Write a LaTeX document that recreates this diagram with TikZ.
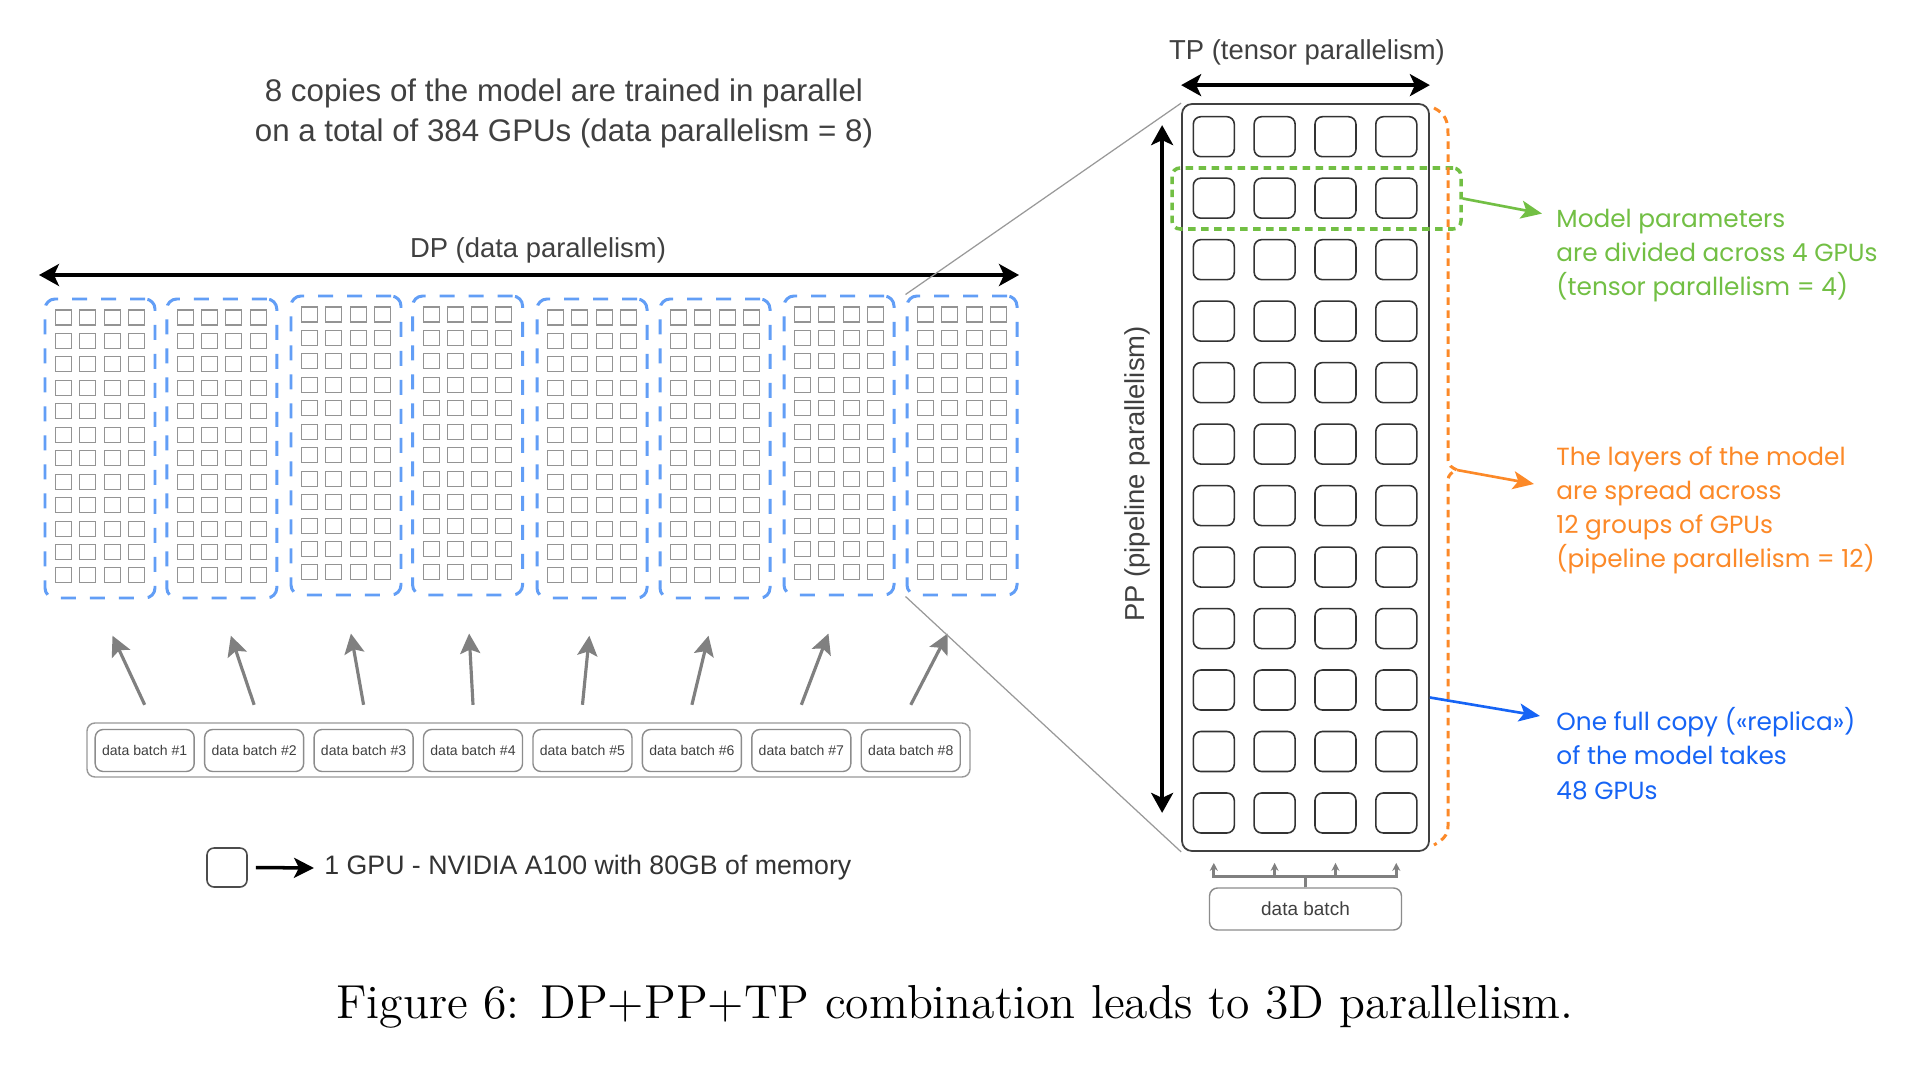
\documentclass[tikz,border=0pt]{standalone}
\usepackage{fontspec}
\newfontfamily\sansf{Liberation Sans}
\newfontfamily\popf{Poppins}
\usetikzlibrary{arrows.meta, positioning, calc}
\definecolor{dpblue}{RGB}{98,158,246}
\definecolor{tpgreen}{RGB}{114,191,68}
\definecolor{pporange}{RGB}{252,137,40}
\definecolor{repblue}{RGB}{22,100,245}
\definecolor{txtgray}{RGB}{64,64,64}

\begin{document}
\begin{tikzpicture}[x=0.1mm, y=-0.1mm, thick]

	% Define styles for boxes
	\tikzstyle{grp} = [rectangle, draw=dpblue, line width=0.85pt, dash pattern=on 1.5mm off 1.4mm,
						rounded corners=1mm, minimum width=11mm, minimum height=29.9mm, inner sep=0]
	\tikzstyle{chip} = [draw=black!42, line width=0.3pt]
	\tikzstyle{gpu} = [rectangle, draw=black!80, line width=0.45pt, rounded corners=0.75mm,
						minimum width=4.1mm, minimum height=4mm, inner sep=0]
	\tikzstyle{batch} = [rectangle, draw=black!45, line width=0.4pt, rounded corners=0.8mm,
						minimum width=9.9mm, minimum height=4.2mm, inner sep=0, text=black!75,
						font=\sansf\fontsize{4}{5}\selectfont]
	\tikzstyle{axlabel} = [font=\sansf\fontsize{7.8}{9}\selectfont, text=txtgray, inner sep=0]
	\tikzstyle{note} = [font=\popf\fontsize{7.05}{9.7}\selectfont, align=left, anchor=west, inner sep=0]

	% Define styles for arrows
	\tikzstyle{biarrow} = [draw=black, line width=1pt,
						{Stealth[length=2mm, width=2.2mm, inset=0.5mm]}-{Stealth[length=2mm, width=2.2mm, inset=0.5mm]}]
	\tikzstyle{feed} = [draw=black!50, line width=0.9pt, -{Stealth[length=2mm, width=2mm, inset=0.4mm]}]
	\tikzstyle{fork} = [draw=black!50, line width=0.9pt, -{Stealth[length=0.8mm, width=0.8mm]}]
	\tikzstyle{pointer} = [line width=0.75pt, -{Stealth[length=2.1mm, width=1.8mm, inset=0.5mm]}]
	\tikzstyle{zoomline} = [draw=black!40, line width=0.35pt]

	\useasboundingbox (0,0) rectangle (1906,1064);
	\fill[white] (0,0) rectangle (1906,1064);

	% Title
	\node [axlabel, align=center, font=\sansf\fontsize{8.9}{11.4}\selectfont] (title) at (564,113.5)
		{8 copies of the model are trained in parallel\\on a total of 384 GPUs (data parallelism = 8)};

	% Place the 8 copies
	\foreach \i/\cx/\cy in {1/100/448.5, 2/221.8/448.5, 3/346/445.5, 4/467.6/445.5,
							5/592/448.5, 6/715/448.5, 7/839/445.5, 8/962/445.5} {
		\node [grp] (g\i) at (\cx,\cy) {};
		\foreach \r in {0,...,11}
			\foreach \c in {0,...,3}
				\draw [chip] (\cx+\c*24.2-44.3, \cy+\r*23.45-138.5) rectangle ++(16,15);
	}

	% DP arrow
	\coordinate (dpl) at (39,275);
	\coordinate (dpr) at (1019,275);
	\path [biarrow] (dpl) -- (dpr);
	\node [axlabel] (dplab) at (538,250) {DP (data parallelism)};

	% Data batches
	\node [rectangle, draw=black!40, line width=0.4pt, rounded corners=0.8mm,
		minimum width=88.3mm, minimum height=5.4mm] (tray) at (528.5,750) {};
	\foreach \i in {1,...,8}
		\node [batch] (b\i) at (35.26+109.44*\i, 750.5) {data batch \#\i};
	\foreach \i in {1,...,8}
		\path [feed] ([yshift=2.4mm]b\i.north) -- ($(g\i.south)!0.28!(b\i.north)$);

	% Legend
	\node [gpu, minimum width=4mm, minimum height=3.9mm, rounded corners=0.7mm, draw=black!70] (leg) at (227,867.5) {};
	\node [anchor=west, inner sep=0, font=\sansf\fontsize{7.6}{9}\selectfont, text=black!80] (legtext) at (323,868)
		{1 GPU - NVIDIA A100 with 80GB of memory};
	\path [draw=black, line width=1pt, -{Stealth[length=2mm, width=2mm, inset=0.5mm]}]
		([xshift=0.8mm]leg.east) -- ([xshift=-0.9mm]legtext.west);

	% One replica
	\node [rectangle, draw=black!75, line width=0.5pt, rounded corners=1mm,
		minimum width=24.7mm, minimum height=74.7mm] (rep) at (1305.5,477.5) {};
	\foreach \r in {1,...,12}
		\foreach \c in {1,...,4}
			\node [gpu] (big-\r-\c) at (1152.97+60.83*\c, 75.22+61.48*\r) {};

	% Zoom lines
	\path [zoomline] (g8.north west) -- (rep.north west);
	\path [zoomline] (g8.south west) -- (rep.south west);

	% TP and PP arrows
	\path [biarrow] ([yshift=1.8mm]rep.north west) -- ([yshift=1.8mm]rep.north east);
	\node [axlabel] (tplab) at (1307,52) {TP (tensor parallelism)};
	\path [biarrow] ($(rep.north west)+(-19,22)$) -- ($(rep.south west)+(-19,-39)$);
	\node [axlabel, rotate=90] (pplab) at (1137,474) {PP (pipeline parallelism)};

	% Tensor row and pipeline bracket
	\node [draw=tpgreen, line width=1pt, dash pattern=on 0.75mm off 0.55mm, rounded corners=0.8mm,
		minimum width=28.9mm, minimum height=6.1mm, inner sep=0] (tprow) at (1316.5,198.5) {};
	\draw [pporange, line width=0.85pt, dash pattern=on 0.75mm off 0.55mm]
		(1434,108) .. controls (1446,114) and (1448,122) .. (1448,134) -- (1448,460)
		.. controls (1448,465) and (1452,468) .. (1457,470) coordinate (bracetip)
		.. controls (1452,472) and (1448,475) .. (1448,480) -- (1448,826)
		.. controls (1448,836) and (1442,840) .. (1434,845);

	% Data batch of the replica
	\node [batch, font=\sansf\fontsize{5.4}{6.5}\selectfont, minimum width=19.2mm, minimum height=4.2mm] (db) at (1305.5,909) {data batch};
	\foreach \c in {1,...,4}
		\path [fork] (db.north) -- ++(0,-11) -| ([yshift=-1.1mm]rep.south -| big-12-\c);

	% Notes
	\node [note, text=tpgreen] (tpnote) at (1555,255.2)
		{Model parameters\\are divided across 4 GPUs\\(tensor parallelism = 4)};
	\node [note, text=pporange] (ppnote) at (1555,510)
		{The layers of the model\\are spread across\\12 groups of GPUs\\(pipeline parallelism = 12)};
	\node [note, text=repblue] (repnote) at (1555,753.6)
		{One full copy («replica»)\\of the model takes\\48 GPUs};

	\path [pointer, draw=tpgreen] (tprow.east) -- ($(tpnote.west)+(-13,-41.6)$);
	\path [pointer, draw=pporange] (bracetip) -- ($(ppnote.west)+(-21,-26)$);
	\path [pointer, draw=repblue] ($(rep.east)+(0,220)$) -- ($(repnote.west)+(-15,-37.6)$);

	% Caption
	\node [font=\fontsize{13.57}{16}\selectfont] (caption) at (955,1006.5)
		{Figure 6: DP+PP+TP combination leads to 3D parallelism.};
\end{tikzpicture}
\end{document}
